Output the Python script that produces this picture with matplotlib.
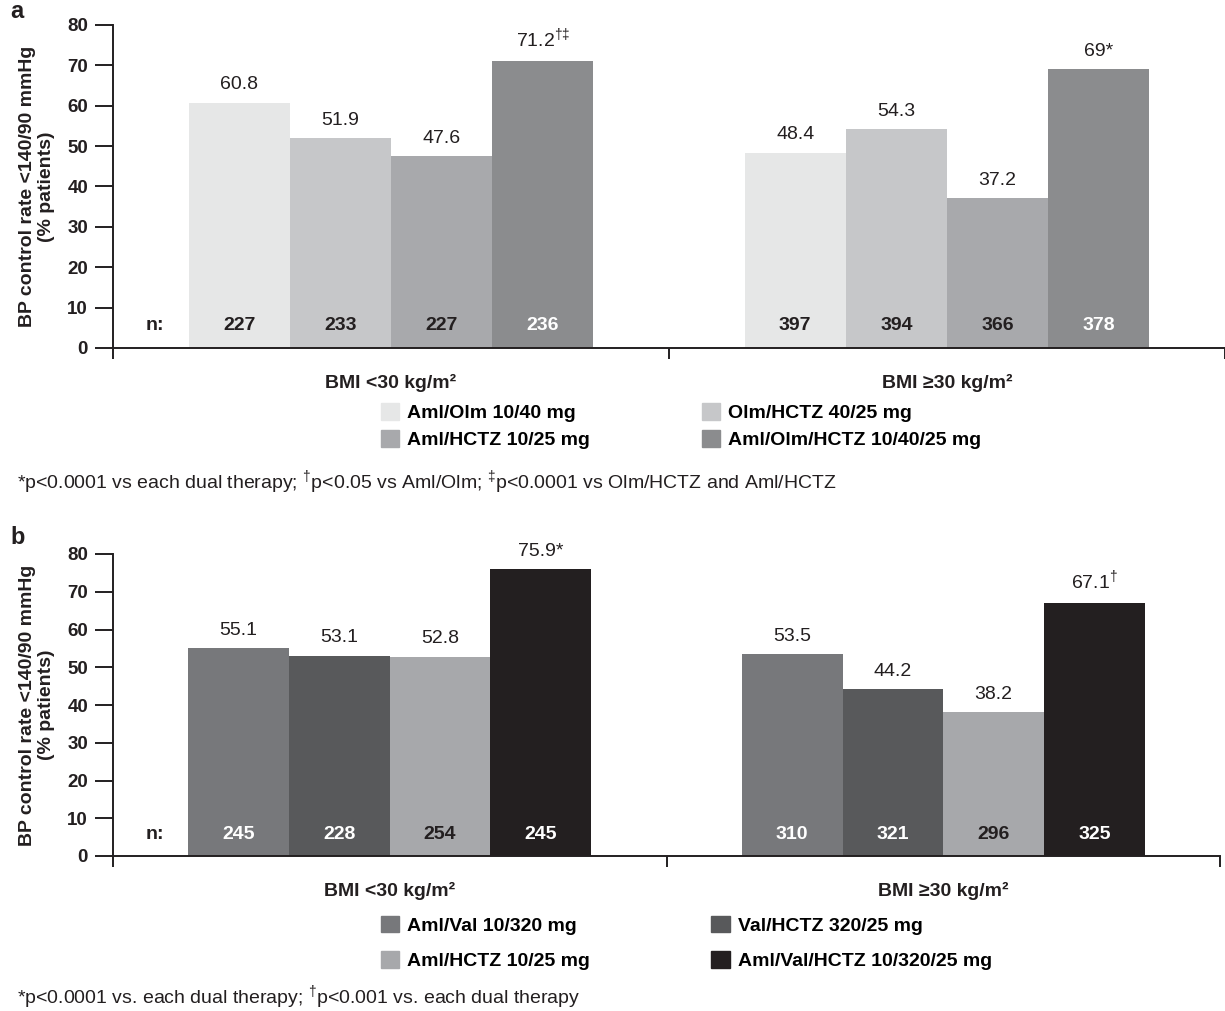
import matplotlib
matplotlib.use("Agg")
import matplotlib.pyplot as plt
from matplotlib.patches import Patch
import numpy as np

plt.rcParams['font.family'] = ['Liberation Sans', 'DejaVu Sans']
plt.rcParams['mathtext.fontset'] = 'custom'
plt.rcParams['mathtext.rm'] = 'Liberation Sans'

# data
groups = ['BMI <30 kg/m²', 'BMI ≥30 kg/m²']

a_series = ['Aml/Olm 10/40 mg', 'Olm/HCTZ 40/25 mg', 'Aml/HCTZ 10/25 mg', 'Aml/Olm/HCTZ 10/40/25 mg']
a_values = [[60.8, 51.9, 47.6, 71.2], [48.4, 54.3, 37.2, 69.0]]
a_labels = [['60.8', '51.9', '47.6', r'71.2$^{\mathrm{†‡}}$'], ['48.4', '54.3', '37.2', '69*']]
a_n = [[227, 233, 227, 236], [397, 394, 366, 378]]
a_colors = ['#e6e7e7', '#c6c7c9', '#a8a9ac', '#8b8c8e']
a_ncolors = ['#231f20', '#231f20', '#231f20', 'white']
a_note = (r'*p<0.0001 vs each dual therapy; $^{\mathrm{†}}$p<0.05 vs Aml/Olm; '
          r'$^{\mathrm{‡}}$p<0.0001 vs Olm/HCTZ and Aml/HCTZ')

b_series = ['Aml/Val 10/320 mg', 'Val/HCTZ 320/25 mg', 'Aml/HCTZ 10/25 mg', 'Aml/Val/HCTZ 10/320/25 mg']
b_values = [[55.1, 53.1, 52.8, 75.9], [53.5, 44.2, 38.2, 67.1]]
b_labels = [['55.1', '53.1', '52.8', '75.9*'], ['53.5', '44.2', '38.2', r'67.1$^{\mathrm{†}}$']]
b_n = [[245, 228, 254, 245], [310, 321, 296, 325]]
b_colors = ['#77787b', '#58595b', '#a7a8ab', '#231f20']
b_ncolors = ['white', 'white', '#231f20', 'white']
b_note = r'*p<0.0001 vs. each dual therapy; $^{\mathrm{†}}$p<0.001 vs. each dual therapy'

W, H = 1225, 1011
fig = plt.figure(figsize=(W / 100, H / 100), dpi=100)
dark = '#231f20'
width = 0.182


def px_axes(x0, y0, x1, y1):
    return fig.add_axes([x0 / W, 1 - y1 / H, (x1 - x0) / W, (y1 - y0) / H])


def panel(ax, series, values, labels, ns, colors, ncolors):
    for i in range(4):
        xs = np.arange(2) + (i - 1.5) * width
        vals = [values[g][i] for g in range(2)]
        ax.bar(xs, vals, width=width, color=colors[i], label=series[i], zorder=2)
        for g in range(2):
            ax.annotate(labels[g][i], (xs[g], vals[g]), xytext=(0, 9.5),
                        textcoords='offset points', ha='center', va='baseline',
                        fontsize=14, color=dark)
            ax.text(xs[g], 5.6, str(ns[g][i]), ha='center', va='center',
                    fontsize=14, fontweight='bold', color=ncolors[i], zorder=3)
    ax.text(-0.424, 5.6, 'n:', ha='center', va='center', fontsize=14,
            fontweight='bold', color=dark)
    ax.set_xlim(-0.5, 1.5)
    ax.set_ylim(0, 80)
    ax.set_yticks(range(0, 81, 10))
    ax.set_xticks([-0.5, 0.5, 1.5])
    ax.set_xticklabels([])
    ax.set_xticks([0, 1], minor=True)
    ax.set_xticklabels(groups, minor=True, fontsize=14, fontweight='bold', color=dark)
    ax.tick_params(axis='x', which='major', length=8, width=1.4, color=dark)
    ax.tick_params(axis='x', which='minor', length=0, pad=19)
    ax.tick_params(axis='y', length=13, width=1.4, color=dark, pad=5)
    for t in ax.get_yticklabels():
        t.set_fontweight('bold')
        t.set_fontsize(13.5)
        t.set_color(dark)
    for s in ['top', 'right']:
        ax.spines[s].set_visible(False)
    for s in ['left', 'bottom']:
        ax.spines[s].set_linewidth(1.4)
        ax.spines[s].set_color(dark)
    ax.set_ylabel('BP control rate <140/90 mmHg\n(% patients)', fontsize=14,
                  fontweight='bold', color=dark, linespacing=1.15)
    ax.yaxis.set_label_coords(-0.052, 0.5)


ax_a = px_axes(113, 25, 1225, 348)
panel(ax_a, a_series, a_values, a_labels, a_n, a_colors, a_ncolors)
ax_b = px_axes(113, 554, 1220, 856)
panel(ax_b, b_series, b_values, b_labels, b_n, b_colors, b_ncolors)

for series, colors, ymid, lsp, csp in [(a_series, a_colors, 426, 0.4, 5.75),
                                       (b_series, b_colors, 943, 0.85, 6.25)]:
    handles = [Patch(color=colors[i], label=series[i]) for i in [0, 2, 1, 3]]
    fig.legend(handles=handles, ncol=2, loc='center left', frameon=False,
               bbox_to_anchor=(371 / W, 1 - ymid / H),
               prop={'weight': 'bold', 'size': 14},
               handlelength=0.95, handleheight=0.95, handletextpad=0.4,
               columnspacing=csp, labelspacing=lsp, borderpad=0)

fig.text(10 / W, 1 - 12 / H, 'a', fontsize=17, fontweight='bold', va='center', color=dark)
fig.text(10 / W, 1 - 537 / H, 'b', fontsize=17, fontweight='bold', va='center', color=dark)
fig.text(17 / W, 1 - 483 / H, a_note, fontsize=14, va='center', color=dark)
fig.text(17 / W, 1 - 998 / H, b_note, fontsize=14, va='center', color=dark)

fig.savefig('out.png', dpi=100)
